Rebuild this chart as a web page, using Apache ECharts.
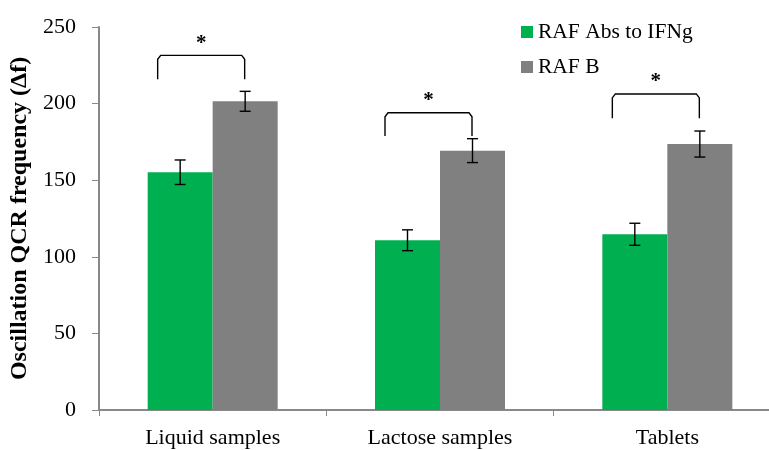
<!DOCTYPE html>
<html><head><meta charset="utf-8">
<script src="https://cdn.jsdelivr.net/npm/echarts@6/dist/echarts.min.js"></script>
<style>html,body{margin:0;padding:0;background:#fff}#c{width:769px;height:450px}</style>
</head><body><div id="c"></div>
<script>
const categories = ['Liquid samples', 'Lactose samples', 'Tablets'];
const seriesNames = ['RAF Abs to IFNg', 'RAF B'];
const rafAbs = [155.2, 110.8, 114.7];
const rafAbsErr = [8.0, 6.8, 7.2];
const rafB = [201.5, 169.3, 173.6];
const rafBErr = [6.5, 7.8, 8.5];
const yTicks = [0, 50, 100, 150, 200, 250];
// significance brackets (value units): top and leg bottom
const sigTop = [231.5, 194.0, 206.3];
const sigBottom = [215.9, 178.9, 190.4];
const sigMark = ['*', '*', '*'];

const FONT = '"Liberation Serif", "Times New Roman", serif';
const BAR_W = 65;
const GREEN = '#00b050', GRAY = '#808080';

function errData(vals, errs) { return categories.map((c, i) => [i, vals[i], errs[i]]); }

function errRender(sign) {
  return function (params, api) {
    const i = api.value(0), v = api.value(1), e = api.value(2);
    const c = api.coord([i, v]);
    const x = c[0] + sign * BAR_W / 2;
    const top = api.coord([i, v + e])[1], bot = api.coord([i, v - e])[1];
    const st = { stroke: '#000', lineWidth: 1.4 };
    return { type: 'group', children: [
      { type: 'line', shape: { x1: x, y1: top, x2: x, y2: bot }, style: st },
      { type: 'line', shape: { x1: x - 5.5, y1: top, x2: x + 5.5, y2: top }, style: st },
      { type: 'line', shape: { x1: x - 5.5, y1: bot, x2: x + 5.5, y2: bot }, style: st }
    ]};
  };
}

function sigRender(params, api) {
  const i = api.value(0), t = api.value(1), b = api.value(2);
  const c = api.coord([i, t]);
  const yt = c[1], yb = api.coord([i, b])[1];
  const x1 = c[0] - 55, x2 = c[0] + 32;
  return { type: 'group', children: [
    { type: 'polyline', shape: { points: [[x1, yb], [x1, yt + 4], [x1 + 3, yt], [x2 - 3, yt], [x2, yt + 4], [x2, yb]] },
      style: { stroke: '#000', lineWidth: 1.4, fill: null } },
    { type: 'text', style: { text: sigMark[i], x: (x1 + x2) / 2, y: yt - 12, align: 'center', verticalAlign: 'middle',
      font: 'bold 21px ' + FONT, fill: '#000' } }
  ]};
}

const chart = echarts.init(document.getElementById('c'));
chart.setOption({
  animation: false,
  backgroundColor: '#fff',
  grid: { left: 99, right: -12, top: 27, bottom: 40, containLabel: false, outerBoundsMode: 'none' },
  legend: {
    orient: 'vertical', left: 516, top: 16, itemWidth: 12, itemHeight: 12, itemGap: 13,
    icon: 'rect', data: seriesNames,
    textStyle: { fontFamily: FONT, fontSize: 21.5, color: '#000', lineHeight: 22 }
  },
  xAxis: {
    type: 'category', data: categories,
    axisLine: { lineStyle: { color: '#898989', width: 2 } },
    axisTick: { show: true, alignWithLabel: false, length: 6, lineStyle: { color: '#898989', width: 1 } },
    axisLabel: { fontFamily: FONT, fontSize: 22, color: '#000', margin: 17, lineHeight: 22 },
    splitLine: { show: false }
  },
  yAxis: {
    type: 'value', min: yTicks[0], max: yTicks[yTicks.length - 1], interval: yTicks[1] - yTicks[0],
    name: 'Oscillation QCR frequency (Δf)', nameLocation: 'middle', nameRotate: 90, nameGap: 66,
    nameTextStyle: { fontFamily: FONT, fontSize: 24, fontWeight: 'bold', color: '#000' },
    axisLine: { show: true, lineStyle: { color: '#898989', width: 2 } },
    axisTick: { show: true, length: 7, lineStyle: { color: '#898989', width: 1 } },
    axisLabel: { fontFamily: FONT, fontSize: 22, color: '#000', margin: 23 },
    splitLine: { show: false }
  },
  series: [
    { name: seriesNames[0], type: 'bar', data: rafAbs, barWidth: BAR_W, barGap: '0%', itemStyle: { color: GREEN } },
    { name: seriesNames[1], type: 'bar', data: rafB, barWidth: BAR_W, barGap: '0%', itemStyle: { color: GRAY } },
    { type: 'custom', renderItem: errRender(-1), data: errData(rafAbs, rafAbsErr), encode: { x: 0, y: 1 }, z: 5, silent: true },
    { type: 'custom', renderItem: errRender(1), data: errData(rafB, rafBErr), encode: { x: 0, y: 1 }, z: 5, silent: true },
    { type: 'custom', renderItem: sigRender, data: categories.map((c, i) => [i, sigTop[i], sigBottom[i]]), encode: { x: 0, y: 1 }, z: 5, silent: true }
  ]
});
</script></body></html>
